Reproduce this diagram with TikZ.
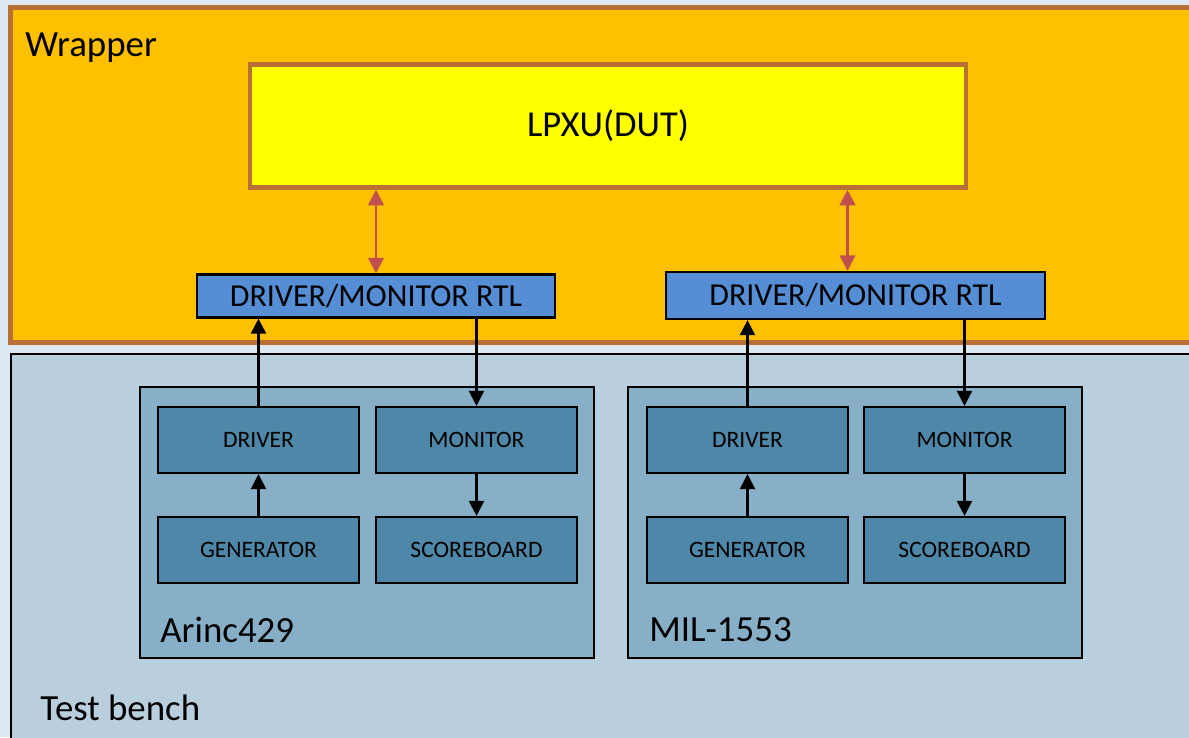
\documentclass[tikz,border=0pt]{standalone}
\usepackage{fontspec}
\setmainfont{Carlito}
\usepackage{xcolor}
\definecolor{cPage}{HTML}{DCE9F3}
\definecolor{cWrap}{HTML}{FFC000}
\definecolor{cWrapLine}{HTML}{B97034}
\definecolor{cDut}{HTML}{FFFF00}
\definecolor{cRtl}{HTML}{558ED5}
\definecolor{cBench}{HTML}{B9CFDD}
\definecolor{cGroup}{HTML}{87AFC7}
\definecolor{cUnit}{HTML}{4F87A8}
\definecolor{cBus}{HTML}{C0504D}
\usepackage{tikz}
\usetikzlibrary{positioning,arrows.meta}
\tikzset{
  wrap-box/.style={draw=cWrapLine,line width=3pt,fill=cWrap,anchor=north west},
  bench-box/.style={draw=black,line width=1.2pt,fill=cBench,anchor=north west},
  dut-box/.style={draw=cWrapLine,line width=2.6pt,fill=cDut,
    minimum width=14.32cm,minimum height=2.46cm,
    font=\fontsize{20.8}{24}\selectfont},
  rtl-box/.style={draw=black,line width=1.3pt,fill=cRtl,
    minimum width=7.16cm,minimum height=0.86cm,
    font=\fontsize{18.2}{21}\selectfont},
  group-box/.style={draw=black,line width=1pt,fill=cGroup,
    minimum width=9.08cm,minimum height=5.42cm},
  unit-box/.style={draw=black,line width=1.2pt,fill=cUnit,
    minimum width=4.02cm,minimum height=1.32cm,
    font=\fontsize{13.4}{16}\selectfont},
  label-text/.style={anchor=west,inner sep=0pt,
    font=\fontsize{21}{24}\selectfont},
  arrow/.style={-{Triangle[length=3mm,width=3mm]},line width=1.2pt,draw=black},
  arrow-bus/.style={{Triangle[length=3.1mm,width=3.1mm]}-{Triangle[length=3.1mm,width=3.1mm]},
    line width=1.4pt,draw=cBus},
}

\begin{document}
\begin{tikzpicture}[x=0.02cm,y=-0.02cm]
  \clip (0,0) rectangle (1189,737);
  \fill[cPage] (0,0) rectangle (1189,737);
  % wrapper and test bench
  \node[wrap-box,minimum width=23.9cm,minimum height=6.7cm] (wrapper) at (8,5) {};
  \node[bench-box,minimum width=23.9cm,minimum height=8cm] (bench) at (10,353) {};
  \node[label-text] (wrap-lbl)  at (25,48)  {Wrapper};
  \node[label-text] (bench-lbl) at (40,708) {Test bench};
  % DUT and RTL drivers
  \node[dut-box] (dut) at (608,126) {LPXU(DUT)};
  \node[rtl-box] (rtlA) at (376,296) {DRIVER/MONITOR RTL};
  \node[rtl-box,minimum width=7.58cm,minimum height=0.94cm] (rtlB) at (855.5,295.5) {DRIVER/MONITOR RTL};
  \draw[arrow-bus] (dut.south -| rtlA.north) -- (rtlA.north);
  \draw[arrow-bus] ([xshift=-0.16cm]rtlB.north |- dut.south) -- ([xshift=-0.16cm]rtlB.north);
  % Arinc429 agent
  \node[group-box] (grpA) at (367,522.5) {};
  \node[label-text] (grpA-lbl) at (160,630) {Arinc429};
  \node[unit-box] (drvA) at (258.5,440) {DRIVER};
  \node[unit-box] (monA) at (476.5,440) {MONITOR};
  \node[unit-box] (genA) at (258.5,550) {GENERATOR};
  \node[unit-box] (sbA)  at (476.5,550) {SCOREBOARD};
  % MIL-1553 agent
  \node[group-box] (grpB) at (855,522.5) {};
  \node[label-text] (grpB-lbl) at (649,630) {MIL-1553};
  \node[unit-box] (drvB) at (747.5,440) {DRIVER};
  \node[unit-box] (monB) at (964.5,440) {MONITOR};
  \node[unit-box] (genB) at (747.5,550) {GENERATOR};
  \node[unit-box] (sbB)  at (964.5,550) {SCOREBOARD};
  % data paths
  \draw[arrow] (drvA.north) -- (drvA.north |- rtlA.south);
  \draw[arrow] (rtlA.south -| monA.north) -- (monA.north);
  \draw[arrow] (genA) -- (drvA);
  \draw[arrow] (monA) -- (sbA);
  \draw[arrow] (drvB.north) -- (drvB.north |- rtlB.south);
  \draw[arrow] (rtlB.south -| monB.north) -- (monB.north);
  \draw[arrow] (genB) -- (drvB);
  \draw[arrow] (monB) -- (sbB);
\end{tikzpicture}
\end{document}
